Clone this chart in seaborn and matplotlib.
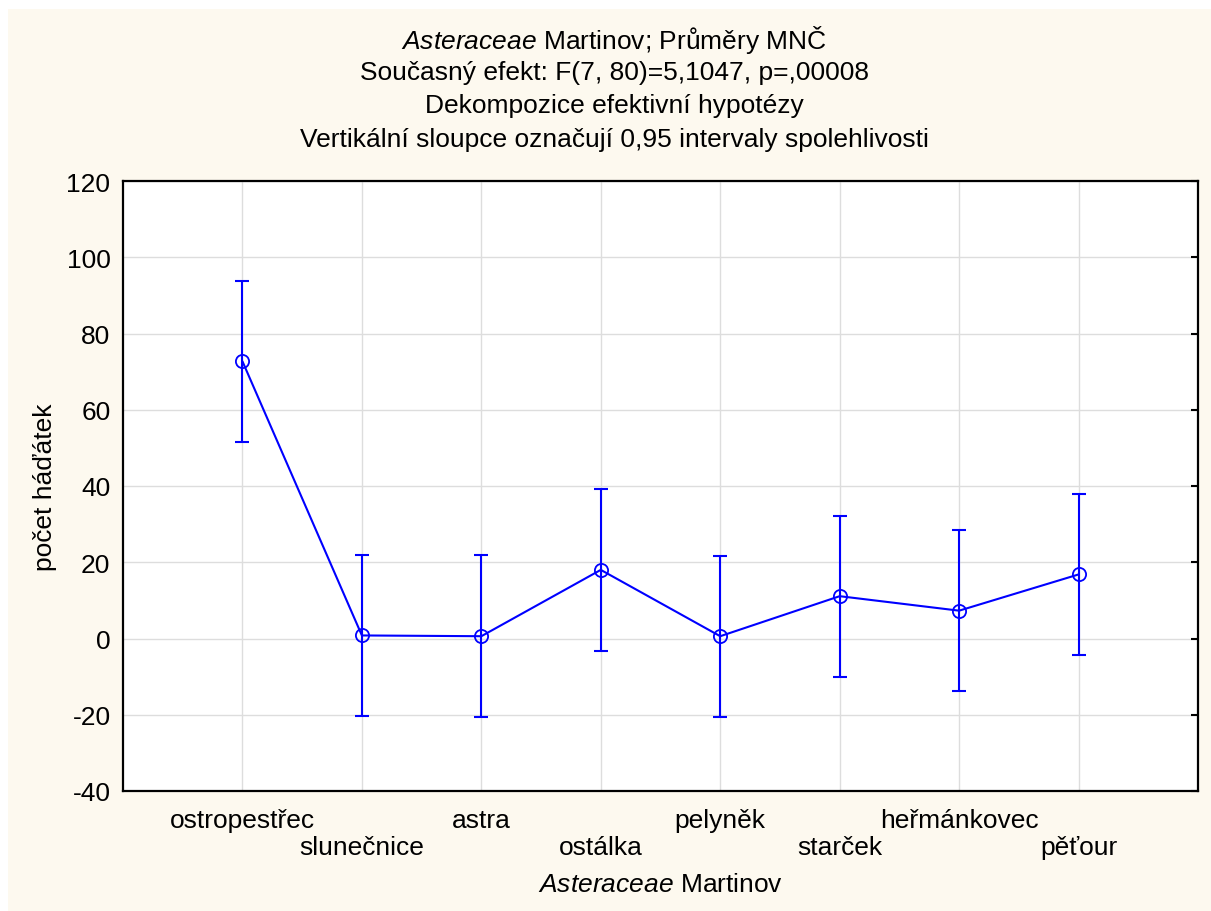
import matplotlib
matplotlib.use("Agg")
import matplotlib.pyplot as plt
from matplotlib.patches import Rectangle
import seaborn as sns
import pandas as pd
import numpy as np

categories = ["ostropestřec", "slunečnice", "astra", "ostálka", "pelyněk",
              "starček", "heřmánkovec", "pěťour"]
means = [72.7, 0.8, 0.6, 18.0, 0.6, 11.1, 7.3, 16.8]
lower = [51.6, -20.3, -20.5, -3.2, -20.5, -10.1, -13.9, -4.3]
upper = [93.8, 22.0, 21.8, 39.2, 21.7, 32.2, 28.4, 37.9]
yticks = [-40, -20, 0, 20, 40, 60, 80, 100, 120]

title_lines = [r"$\it{Asteraceae}$ Martinov; Průměry MNČ",
               "Současný efekt: F(7, 80)=5,1047, p=,00008",
               "Dekompozice efektivní hypotézy",
               "Vertikální sloupce označují 0,95 intervaly spolehlivosti"]
xlabel = r"$\it{Asteraceae}$ Martinov"
ylabel = "počet háďátek"

sns.set_style("white")
plt.rcParams["font.family"] = ["Liberation Sans", "DejaVu Sans"]
plt.rcParams["mathtext.fontset"] = "custom"
plt.rcParams["mathtext.rm"] = "Liberation Sans"
plt.rcParams["mathtext.it"] = "Liberation Sans:italic"
plt.rcParams["axes.unicode_minus"] = False
plt.rcParams["text.color"] = "black"
plt.rcParams["axes.labelcolor"] = "black"

FS = 19
W, H = 1211, 912
fig = plt.figure(figsize=(W / 100, H / 100), dpi=100, facecolor="white")
fig.patches.append(Rectangle((8 / W, 0), 1 - 8 / W, 1 - 10 / H,
                             transform=fig.transFigure, facecolor="#fdf9ef",
                             edgecolor="none", zorder=-10))
ax = fig.add_axes([123 / W, 1 - 792 / H, (1198 - 123) / W, (792 - 182) / H])
ax.set_facecolor("white")

df = pd.DataFrame({"cat": categories, "mean": means, "lo": lower, "hi": upper})
df["x"] = np.arange(len(df))

sns.lineplot(data=df, x="x", y="mean", ax=ax, color="#0000ff", lw=1.5,
             marker="o", markersize=9.5, markerfacecolor="none",
             markeredgecolor="#0000ff", markeredgewidth=1.3, zorder=5)
yerr = np.vstack([df["mean"] - df["lo"], df["hi"] - df["mean"]])
ax.errorbar(df["x"], df["mean"], yerr=yerr, fmt="none", ecolor="#0000ff",
            elinewidth=1.5, capsize=5, capthick=1.5, zorder=4)

ax.set_xlim(-1, len(df))
ax.set_ylim(-40, 120)
ax.set_yticks(yticks)
ax.set_yticklabels([str(v) for v in yticks])

even = df.iloc[::2]
odd = df.iloc[1::2]
ax.set_xticks(even["x"])
ax.set_xticklabels(even["cat"])
ax.set_xticks(odd["x"], minor=True)
ax.set_xticklabels(odd["cat"], minor=True)

ax.grid(True, which="major", color="#dddddd", lw=1.0)
ax.grid(True, which="minor", axis="x", color="#dddddd", lw=1.0)
ax.set_axisbelow(True)
for s in ax.spines.values():
    s.set_color("black")
    s.set_linewidth(1.6)
ax.tick_params(axis="both", which="both", direction="in", length=5, width=1.5,
               color="black", labelsize=FS, labelcolor="black")
ax.tick_params(axis="y", right=True, pad=9)
ax.tick_params(axis="x", which="major", pad=12)
ax.tick_params(axis="x", which="minor", pad=32)

ax.set_xlabel(xlabel, fontsize=FS, labelpad=9)
ax.set_ylabel(ylabel, fontsize=FS, labelpad=7)

ys = [40, 73, 106, 140]
for t, y in zip(title_lines, ys):
    fig.text(614 / W, 1 - y / H, t, ha="center", va="center", fontsize=FS)

fig.savefig("out.png", dpi=100, facecolor=fig.get_facecolor())
